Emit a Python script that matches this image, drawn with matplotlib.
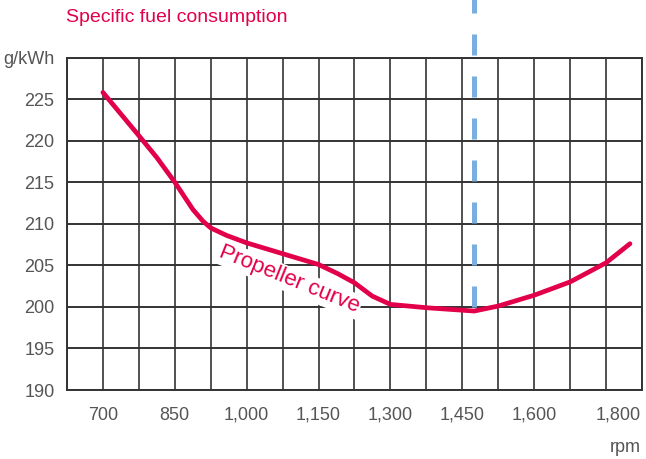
import matplotlib.pyplot as plt
from matplotlib import font_manager
import numpy as np

# 讀取數值
rpm = [700, 775, 812, 850, 888, 909, 925, 958, 1000, 1075, 1150, 1190, 1225, 1262, 1300, 1375, 1450, 1475, 1525, 1600, 1675, 1750, 1800]
fuel = [225.8, 220.6, 218.0, 215.0, 211.7, 210.3, 209.5, 208.6, 207.7, 206.4, 205.1, 204.0, 202.9, 201.3, 200.3, 199.9, 199.6, 199.5, 200.1, 201.4, 203.0, 205.3, 207.6]

x_ticks = [700, 850, 1000, 1150, 1300, 1450, 1600, 1775]
x_labels = ['700', '850', '1,000', '1,150', '1,300', '1,450', '1,600', '1,800']
x_grid = np.arange(625, 1826, 75)
y_ticks = [190, 195, 200, 205, 210, 215, 220, 225, 230]
y_labels = ['190', '195', '200', '205', '210', '215', '220', '225', 'g/kWh']
rated_rpm = 1475

pink = '#e2004a'
blue = '#7aade0'
grid_c = '#333333'
text_c = '#555555'

names = {f.name for f in font_manager.fontManager.ttflist}
fam = [n for n in ['DejaVu Sans Condensed', 'Liberation Sans Narrow', 'Liberation Sans'] if n in names]
plt.rcParams['font.family'] = fam + ['DejaVu Sans']

fig = plt.figure(figsize=(6.46, 4.59), dpi=100)
ax = fig.add_axes([0.1037, 0.1503, 0.890, 0.7244])

ax.set_xlim(625, 1825)
ax.set_ylim(190, 230)

# 網格
for xv in x_grid:
    ax.axvline(xv, color=grid_c, linewidth=1.2, zorder=1)
for yv in y_ticks:
    ax.axhline(yv, color=grid_c, linewidth=1.4, zorder=1)
ax.set_yticks(y_ticks)
ax.set_yticklabels(y_labels, fontsize=13, color=text_c)
ax.set_xticks(x_ticks)
ax.set_xticklabels(x_labels, fontsize=13, color=text_c)
ax.tick_params(axis='both', which='both', length=0)
ax.tick_params(axis='y', pad=9)
ax.tick_params(axis='x', pad=12)
for s in ax.spines.values():
    s.set_color(grid_c)
    s.set_linewidth(1.4)

# 虛線
ax.plot([rated_rpm, rated_rpm], [200, 240], color=blue, linewidth=3.6,
        dashes=(4.2, 4.2), clip_on=False, zorder=3)

# 折線
ax.plot(rpm, fuel, color=pink, linewidth=3.4, solid_capstyle='round',
        solid_joinstyle='round', zorder=5, clip_on=False)

ax.text(1088, 203.3, 'Propeller curve', rotation=-22, color=pink, fontsize=16,
        ha='center', va='center', zorder=4,
        bbox=dict(facecolor='white', edgecolor='none', pad=1.5))

fig.text(66 / 646, 1 - 18 / 459, 'Specific fuel consumption', color=pink,
         fontsize=14, ha='left', va='center')
fig.text(641 / 646, 1 - 447 / 459, 'rpm', color=text_c, fontsize=13,
         ha='right', va='center')

plt.savefig('out.png', dpi=100)
